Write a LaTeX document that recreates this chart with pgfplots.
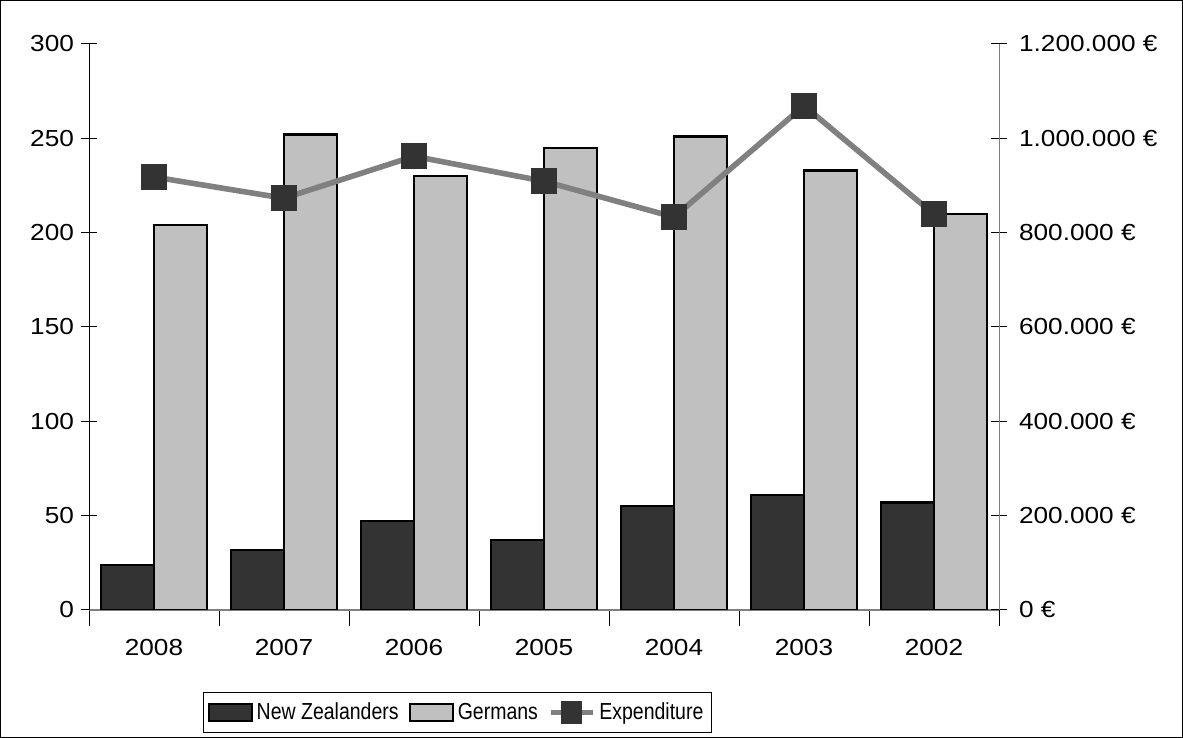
\documentclass[border=0pt]{standalone}
\usepackage{pgfplots}
\pgfplotsset{compat=1.18}
\usepackage{fontspec}
\setmainfont{Liberation Sans}
\newfontfamily\tickfam[FakeStretch=1.13]{Liberation Sans}
\newfontfamily\legfam[FakeStretch=0.84]{Liberation Sans}
\definecolor{nz}{HTML}{333333}
\definecolor{de}{HTML}{C0C0C0}
\definecolor{ex}{HTML}{808080}
\newcommand{\ff}{\tickfam\fontsize{11.6}{13.5}\selectfont}
\newcommand{\lf}{\legfam\fontsize{11.6}{13.5}\selectfont}
\pgfplotsset{
  boxlegend/.style={legend image code/.code={\draw[##1] (0pt,-4.2pt) rectangle (21.5pt,4.2pt);}},
  linelegend/.style={legend image code/.code={\draw[ex, line width=2.7pt] (0pt,0pt) -- (21pt,0pt);
    \fill[nz] (6.8pt,-4.2pt) rectangle (14.2pt,4.2pt);}},
}
\begin{document}
\begin{tikzpicture}
\useasboundingbox (0,0) rectangle (591.5pt,369pt);
\draw[black, line width=0.5pt] (0.25pt,0.25pt) rectangle (591.25pt,368.75pt);
\begin{axis}[
  at={(44.5pt,64pt)}, anchor=south west,
  scale only axis, width=455pt, height=283pt,
  xmin=-0.5, xmax=6.5, ymin=0, ymax=300,
  axis x line*=bottom, axis y line*=left,
  x axis line style={draw=ex, line width=0.8pt, -},
  y axis line style={draw=black, line width=0.5pt, -},
  ytick={0,50,...,300},
  xtick={0,...,6},
  xticklabels={2008,2007,2006,2005,2004,2003,2002},
  major x tick style={draw=none},
  minor xtick={-0.5,0.5,...,6.5},
  minor x tick style={draw=black, line width=0.5pt},
  major y tick style={draw=black, line width=0.5pt},
  tick align=center,
  major tick length=8pt, minor tick length=8pt,
  tick label style={font=\ff},
  x tick label style={yshift=-3pt},
  /pgf/number format/assume math mode=true,
  ybar=0pt, bar width=26.35pt,
]
\addplot[fill=nz, draw=black, line width=1.1pt] coordinates {(0,24) (1,32) (2,47) (3,37) (4,55) (5,61) (6,57)};
\addplot[fill=de, draw=black, line width=1.1pt] coordinates {(0,204) (1,252) (2,230) (3,245) (4,251) (5,233) (6,210)};
\end{axis}
\begin{axis}[
  at={(44.5pt,64pt)}, anchor=south west,
  scale only axis, width=455pt, height=283pt,
  xmin=-0.5, xmax=6.5, ymin=0, ymax=1200000,
  axis x line=none, axis y line*=right,
  y axis line style={draw=ex, line width=0.5pt, -},
  major y tick style={draw=black, line width=0.5pt},
  tick align=center, major tick length=8pt,
  scaled y ticks=false,
  ytick={0,200000,400000,600000,800000,1000000,1200000},
  yticklabels={0 €,200.000 €,400.000 €,600.000 €,800.000 €,1.000.000 €,1.200.000 €},
  tick label style={font=\ff},
  y tick label style={xshift=2.5pt},
  legend columns=3,
  legend style={draw=black, line width=0.5pt, at={(0.1253,-0.1449)}, anchor=north west,
    font=\lf, inner xsep=2pt, inner ysep=3pt,
    /tikz/every even column/.append style={column sep=3pt}},
  legend cell align=left,
]
\addlegendimage{fill=nz, draw=black, line width=1.1pt, boxlegend}
\addlegendentry{New Zealanders}
\addlegendimage{fill=de, draw=black, line width=1.1pt, boxlegend}
\addlegendentry{Germans}
\addplot[ex, line width=2.8pt, mark=square*, mark size=6.3pt,
  mark options={fill=nz, draw=nz, line width=0.5pt}, linelegend]
  coordinates {(0,918000) (1,873000) (2,962000) (3,909000) (4,833000) (5,1069000) (6,839000)};
\addlegendentry{Expenditure}
\end{axis}
\end{tikzpicture}
\end{document}
